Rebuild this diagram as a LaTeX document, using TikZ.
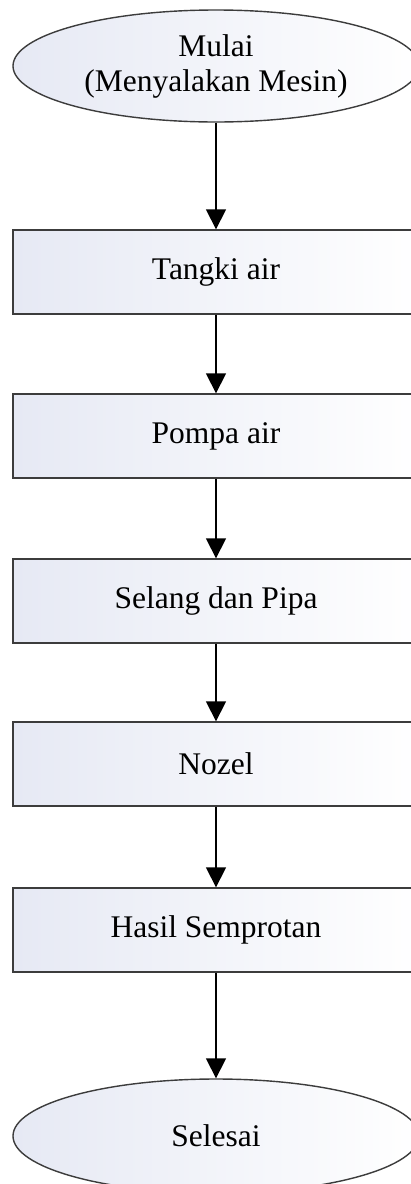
\documentclass[tikz,border=0pt]{standalone}
\usepackage{fontspec}
\setmainfont{Liberation Serif}
\usetikzlibrary{shapes.geometric,arrows.meta}
\definecolor{fillleft}{RGB}{230,233,244}
\definecolor{edge}{RGB}{60,60,60}
\begin{document}
\begin{tikzpicture}[x=1pt,y=-1pt,
  every node/.style={font=\fontsize{31.5}{35}\selectfont, text=black},
  terminal/.style={ellipse, draw=edge, line width=1.4pt,
    left color=fillleft, right color=white,
    minimum width=406pt, minimum height=#1, inner sep=0pt, align=center},
  terminal/.default=112pt,
  stepbox/.style={rectangle, draw=edge, line width=1.4pt,
    left color=fillleft, right color=white,
    minimum width=406pt, minimum height=84pt, inner sep=0pt},
  flow/.style={draw=black, line width=1.7pt,
    -{Triangle[length=20pt,width=20pt]}}]
\useasboundingbox (0,0) rectangle (411,1184);
\fill[white] (0,0) rectangle (411,1184);

\node[terminal] (start) at (216,66) {Mulai\\(Menyalakan Mesin)};
\node[stepbox] (tank) at (216,272) {Tangki air};
\node[stepbox] (pump) at (216,436) {Pompa air};
\node[stepbox] (hose) at (216,601) {Selang dan Pipa};
\node[stepbox] (nozzle) at (216,764) {Nozel};
\node[stepbox] (spray) at (216,930) {Hasil Semprotan};
\node[terminal=114pt] (finish) at (216,1136) {Selesai};

\draw[flow] (start) -- (tank);
\draw[flow] (tank) -- (pump);
\draw[flow] (pump) -- (hose);
\draw[flow] (hose) -- (nozzle);
\draw[flow] (nozzle) -- (spray);
\draw[flow] (spray) -- (finish);
\end{tikzpicture}
\end{document}
